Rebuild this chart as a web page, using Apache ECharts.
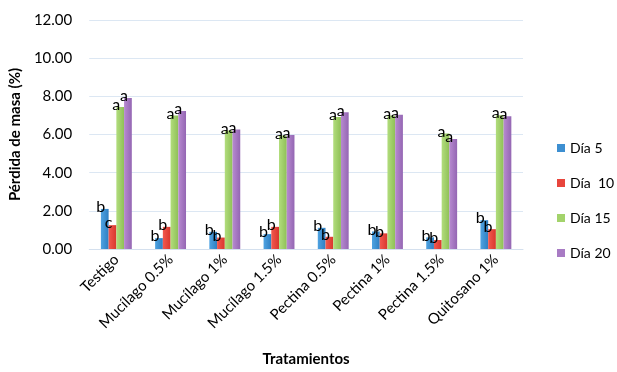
<!DOCTYPE html>
<html>
<head>
<meta charset="utf-8">
<script src="https://cdn.jsdelivr.net/npm/echarts@6/dist/echarts.min.js"></script>
<style>
  html, body { margin: 0; padding: 0; background: #fff; }
  #chart { width: 617px; height: 372px; }
</style>
</head>
<body>
<div id="chart"></div>
<script>
// Treatments on the category axis
const categories = ['Testigo', 'Mucílago 0.5%', 'Mucílago 1%', 'Mucílago 1.5%',
  'Pectina 0.5%', 'Pectina 1%', 'Pectina 1.5%', 'Quitosano 1%'];

// Mass loss (%) per sampling day
const dia5  = [2.10, 0.57, 0.90, 0.78, 1.11, 0.92, 0.61, 1.51];
const dia10 = [1.25, 1.16, 0.60, 1.16, 0.64, 0.82, 0.47, 1.04];
const dia15 = [7.44, 7.00, 6.21, 5.95, 6.92, 6.99, 6.05, 7.01];
const dia20 = [7.91, 7.23, 6.26, 5.98, 7.16, 7.04, 5.77, 6.96];

// Significance letters shown above each bar
const letras5  = ['b', 'b', 'b', 'b', 'b', 'b', 'b', 'b'];
const letras10 = ['c', 'b', 'b', 'b', 'b', 'b', 'b', 'b'];
const letras15 = ['a', 'a', 'a', 'a', 'a', 'a', 'a', 'a'];
const letras20 = ['a', 'a', 'a', 'a', 'a', 'a', 'a', 'a'];

const seriesNames = ['Día 5', 'Día  10', 'Día 15', 'Día 20'];
const yTicks = [0, 2, 4, 6, 8, 10, 12];

const FONT = 'Lato, "Open Sans", sans-serif';

function grad(light, dark) {
  return new echarts.graphic.LinearGradient(0, 0, 1, 0, [
    { offset: 0, color: light },
    { offset: 1, color: dark }
  ]);
}

const palette = [
  grad('#4fa3e2', '#2e7fc2'),
  grad('#f2594f', '#d9362e'),
  grad('#b2dd7d', '#8fc057'),
  grad('#b78ad0', '#9466b3')
];
const legendColors = ['#3d8fd1', '#e8453c', '#a3d36b', '#a87bc4'];

function makeSeries(name, values, letters, idx) {
  return {
    name: name,
    type: 'bar',
    data: values,
    barGap: '0%',
    barCategoryGap: '43%',
    itemStyle: { color: palette[idx] },
    label: {
      show: true,
      position: 'top',
      distance: 0,
      offset: [-4, 6],
      color: '#000',
      fontFamily: FONT,
      fontSize: 16,
      formatter: p => letters[p.dataIndex]
    }
  };
}

const chart = echarts.init(document.getElementById('chart'), null, { renderer: 'canvas' });
chart.setOption({
  animation: false,
  backgroundColor: '#fff',
  color: legendColors,
  textStyle: { fontFamily: FONT },
  grid: { left: 87, right: 94, top: 20, bottom: 122 },
  legend: {
    orient: 'vertical',
    left: 552,
    top: 136,
    itemWidth: 8,
    itemHeight: 8,
    itemGap: 21,
    icon: 'rect',
    textStyle: { fontFamily: FONT, fontSize: 14, color: '#000' },
    data: seriesNames.map((n, i) => ({ name: n, itemStyle: { color: legendColors[i] } }))
  },
  xAxis: {
    type: 'category',
    data: categories,
    name: 'Tratamientos',
    nameLocation: 'middle',
    nameGap: 103,
    nameTextStyle: { fontFamily: FONT, fontSize: 15, fontWeight: 'bold', color: '#000' },
    axisLine: { lineStyle: { color: '#d4e0ee', width: 1 } },
    axisTick: { show: false },
    axisLabel: {
      rotate: 45,
      margin: 8,
      color: '#000',
      fontFamily: FONT,
      fontSize: 15,
      interval: 0
    }
  },
  yAxis: {
    type: 'value',
    min: yTicks[0],
    max: yTicks[yTicks.length - 1],
    interval: yTicks[1] - yTicks[0],
    name: 'Pérdida de masa (%)',
    nameLocation: 'middle',
    nameGap: 61,
    nameTextStyle: { fontFamily: FONT, fontSize: 15, fontWeight: 'bold', color: '#000' },
    axisLine: { show: false },
    axisTick: { show: false },
    splitLine: { lineStyle: { color: '#dce7f3', width: 1 } },
    axisLabel: {
      margin: 17,
      color: '#000',
      fontFamily: FONT,
      fontSize: 15,
      formatter: v => v.toFixed(2)
    }
  },
  series: [
    makeSeries(seriesNames[0], dia5, letras5, 0),
    makeSeries(seriesNames[1], dia10, letras10, 1),
    makeSeries(seriesNames[2], dia15, letras15, 2),
    makeSeries(seriesNames[3], dia20, letras20, 3)
  ]
});
</script>
</body>
</html>
